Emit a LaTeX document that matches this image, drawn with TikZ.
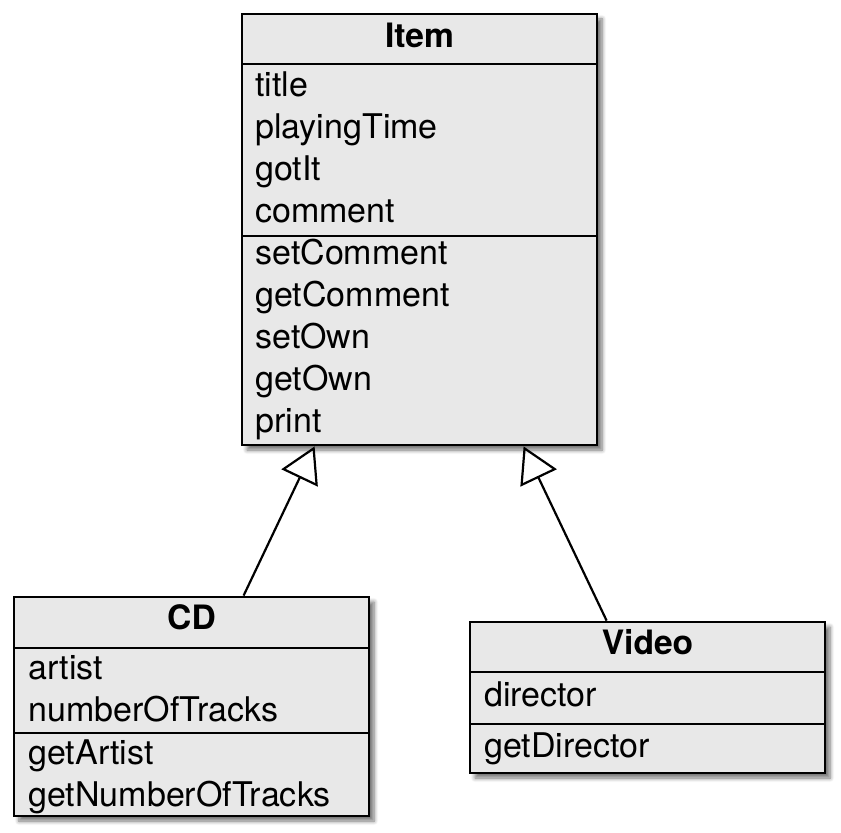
\documentclass[tikz,border=0pt]{standalone}
\usepackage{fontspec}
\setmainfont{TeX Gyre Heros}
\usetikzlibrary{arrows.meta,calc,shadows.blur}

\begin{document}
\begin{tikzpicture}[x=0.5pt,y=-0.5pt,>={Triangle[open,length=17.5pt,width=20pt]},
        class box/.style={draw,line width=1.4pt,fill=black!9,minimum width=177.5pt,inner sep=0pt,
          blur shadow={shadow xshift=2.5pt,shadow yshift=-2.5pt,shadow opacity=55,shadow blur steps=6}},
        class name/.style={anchor=base,font=\fontsize{16.8}{20}\selectfont\bfseries,inner sep=0pt},
        member/.style={anchor=base west,font=\fontsize{17}{20}\selectfont,inner sep=0pt},
        divider/.style={line width=1pt},
        inherits/.style={->,line width=1.1pt}]
        \useasboundingbox (0,0) rectangle (841,833);

        % Item
        \node[class box, minimum height=215.5pt] (item) at (419.5,229.5) {};
        \draw[divider] (242,64) -- (597,64);
        \draw[divider] (242,236) -- (597,236);
        \node[class name] (itemname) at (419.5,48) {Item};
        \foreach \txt [count=\i] in {title,playingTime,gotIt,comment,setComment,getComment,setOwn,getOwn,print}
          \node[member] (item-\i) at (255,55+42*\i) {\txt};

        % CD
        \node[class box, minimum height=109.5pt] (cd) at (191.5,706.5) {};
        \draw[divider] (14,648) -- (369,648);
        \draw[divider] (14,733) -- (369,733);
        \node[class name] (cdname) at (191.5,630) {CD};
        \foreach \txt [count=\i] in {artist,numberOfTracks,getArtist,getNumberOfTracks}
          \node[member] (cd-\i) at (28,638+42*\i) {\txt};

        % Video
        \node[class box, minimum height=75.5pt] (video) at (647.5,697.5) {};
        \draw[divider] (470,672) -- (825,672);
        \draw[divider] (470,724) -- (825,724);
        \node[class name] (videoname) at (647.5,655) {Video};
        \node[member] (video-1) at (484,707) {director};
        \node[member] (video-2) at (484,757) {getDirector};

        % generalisation
        \draw[inherits] ($(cd.north west)+(231,0)$) -- ($(item.south west)+(74,0)$);
        \draw[inherits] ($(video.north west)+(138,0)$) -- ($(item.south west)+(283,0)$);
\end{tikzpicture}
\end{document}
